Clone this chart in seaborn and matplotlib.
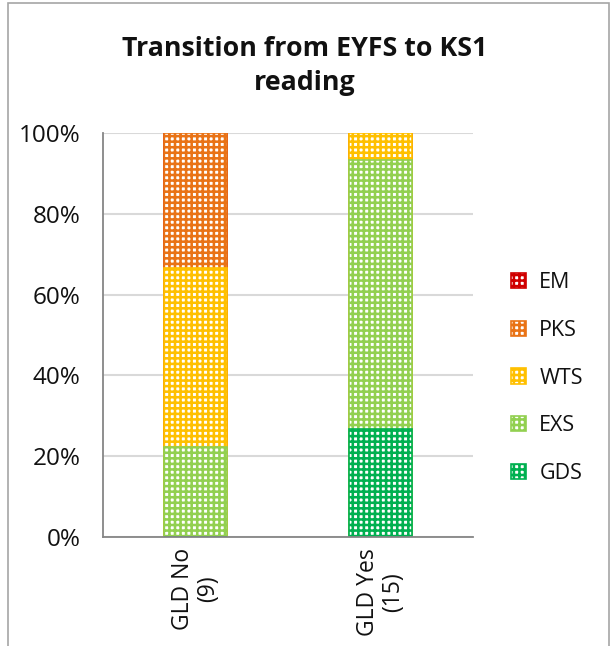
import matplotlib
matplotlib.use("Agg")
import matplotlib.pyplot as plt
import seaborn as sns
import numpy as np
import pandas as pd
from matplotlib.patches import Patch, Rectangle

# ---- data ----
categories = ["GLD No\n(9)", "GLD Yes\n(15)"]
series = ["GDS", "EXS", "WTS", "PKS", "EM"]          # bottom -> top
gds = [0.0, 26.7]
exs = [22.2, 66.7]
wts = [44.5, 6.6]
pks = [33.3, 0.0]
em = [0.0, 0.0]
colors = {"GDS": "#00B050", "EXS": "#92D050", "WTS": "#FFC000",
          "PKS": "#E97316", "EM": "#D00000"}
yticks = [0, 20, 40, 60, 80, 100]
ytick_labels = ["0%", "20%", "40%", "60%", "80%", "100%"]

sns.set_style("white")
plt.rcParams["font.family"] = ["Open Sans", "DejaVu Sans"]
plt.rcParams["hatch.linewidth"] = 1.85
plt.rcParams["text.color"] = "#111111"
plt.rcParams["xtick.color"] = "#111111"
plt.rcParams["ytick.color"] = "#111111"

fig = plt.figure(figsize=(6.10, 6.46), dpi=100)
ax = fig.add_axes([103/610, 109/646, 370/610, 404/646])

values = {"GDS": gds, "EXS": exs, "WTS": wts, "PKS": pks, "EM": em}
cum = np.zeros(len(categories))
tops = {}
for s in series:
    cum = cum + np.array(values[s])
    tops[s] = cum.copy()

# draw from top-most cumulative down so lower segments overlay
for s in reversed(series):
    df = pd.DataFrame({"cat": categories, "val": tops[s]})
    n_before = len(ax.patches)
    sns.barplot(data=df, x="cat", y="val", ax=ax, color="white",
                width=0.34, order=categories)
    for p in ax.patches[n_before:]:
        p.set_facecolor("white")
        p.set_edgecolor(colors[s])
        p.set_hatch("+++")
        p.set_linewidth(1.2)

ax.set_ylim(0, 100)
ax.set_xlim(-0.5, 1.5)
ax.set_yticks(yticks)
ax.set_yticklabels(ytick_labels, fontsize=17.5)
ax.set_xlabel("")
ax.set_ylabel("")
ax.yaxis.grid(True, color="#d9d9d9", linewidth=1.5)
ax.set_axisbelow(True)
for side in ["top", "right"]:
    ax.spines[side].set_visible(False)
for side in ["left", "bottom"]:
    ax.spines[side].set_color("#868686")
    ax.spines[side].set_linewidth(1.3)

ax.set_xticks([0, 1])
ax.set_xticklabels(categories, rotation=90, fontsize=16.5, linespacing=1.1)
ax.tick_params(axis="x", which="major", length=0, pad=8)
ax.set_xticks([-0.5, 0.5, 1.5], minor=True)
ax.tick_params(axis="x", which="minor", length=6, color="#868686", width=1.3)
ax.tick_params(axis="y", length=5, color="#868686", width=1.3, pad=11)

handles = [Patch(facecolor="white", edgecolor=colors[s], hatch="+++",
                 linewidth=1.2, label=s) for s in reversed(series)]
leg = fig.legend(handles=handles, loc="center left",
                 bbox_to_anchor=(492/610, 1 - 378/646), frameon=False,
                 fontsize=15.5, handlelength=0.7, handleheight=0.7,
                 handletextpad=0.6, labelspacing=1.24)

fig.text(305/610, 1 - 66/646, "Transition from EYFS to KS1\nreading",
         ha="center", va="center", fontsize=19.3, fontweight="bold",
         linespacing=1.4)

# chart border
fig.patches.append(Rectangle((8/610, -0.05), 601/610, 1.05 - 3/646,
                             transform=fig.transFigure, fill=False,
                             edgecolor="#a6a6a6", linewidth=1.2))

fig.savefig("out.png", dpi=100)
